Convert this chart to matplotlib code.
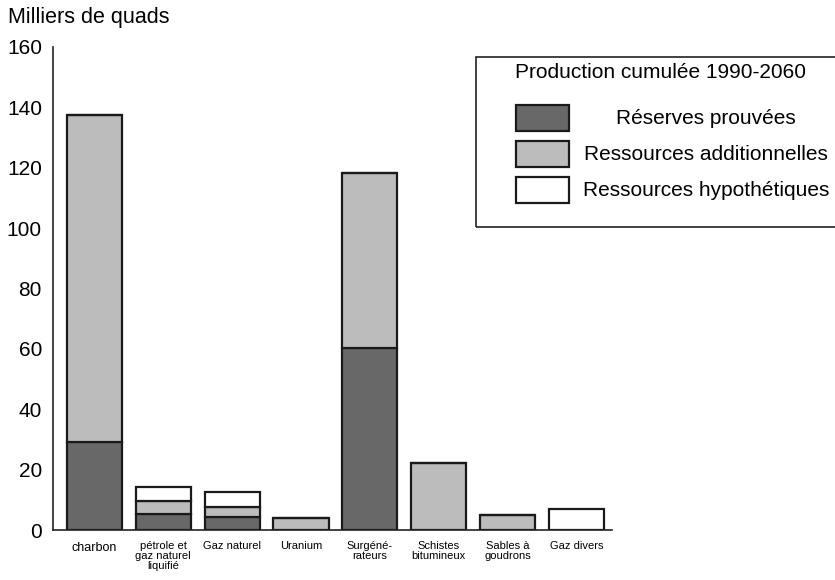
import matplotlib.pyplot as plt
from matplotlib.patches import Rectangle

plt.rcParams['font.family'] = ['Liberation Sans', 'DejaVu Sans']

categories = ['charbon', 'pétrole et\ngaz naturel\nliquifié', 'Gaz naturel', 'Uranium',
              'Surgéné-\nrateurs', 'Schistes\nbitumineux', 'Sables à\ngoudrons', 'Gaz divers']
reserves = [29, 5.3, 4.2, 0, 60.3, 0, 0, 0]
additionnelles = [108.4, 4.4, 3.4, 4.1, 57.9, 22.2, 5.0, 0]
hypothetiques = [0, 4.6, 5.0, 0, 0, 0, 0, 7.0]

dark = '#686868'
light = '#bcbcbc'
edge = '#1a1a1a'

fig = plt.figure(figsize=(8.35, 5.8), dpi=100)
ax = fig.add_axes([0.0635, 0.0862, 0.669, 0.8328])

x = list(range(len(categories)))
w = 0.8
bottom2 = [r for r in reserves]
bottom3 = [r + a for r, a in zip(reserves, additionnelles)]
ax.bar(x, reserves, w, color=dark, edgecolor=edge, linewidth=1.6)
ax.bar(x, additionnelles, w, bottom=bottom2, color=light, edgecolor=edge, linewidth=1.6)
ax.bar(x, hypothetiques, w, bottom=bottom3, color='white', edgecolor=edge, linewidth=1.6)

ax.set_xlim(-0.6, 7.51)
ax.set_ylim(0, 160)
ax.set_yticks(range(0, 161, 20))
ax.tick_params(axis='y', length=0, pad=8, labelsize=15)
ax.set_xticks([])
for s in ['top', 'right']:
    ax.spines[s].set_visible(False)
for s in ['left', 'bottom']:
    ax.spines[s].set_linewidth(1.2)
    ax.spines[s].set_color('#222222')

for i, lab in enumerate(categories):
    if i == 0:
        ax.text(i, -4, lab, ha='center', va='top', fontsize=9)
    else:
        ax.text(i, -3.8, lab, ha='center', va='top', fontsize=8, linespacing=1.0)

fig.text(8 / 835, 1 - 18 / 580, 'Milliers de quads', fontsize=15.5, ha='left', va='center')

# legende dessinée à la main
fig.patches.append(Rectangle((476 / 835, 1 - 227 / 580), 400 / 835, 170 / 580,
                             transform=fig.transFigure, fill=False, edgecolor='#222222', linewidth=1.2))
fig.text(515 / 835, 1 - 73 / 580, 'Production cumulée 1990-2060', fontsize=15, ha='left', va='center')
leg_colors = [dark, light, 'white']
leg_labels = ['Réserves prouvées', 'Ressources additionnelles', 'Ressources hypothétiques']
for k, (c, lab) in enumerate(zip(leg_colors, leg_labels)):
    yc = 118 + k * 36
    fig.patches.append(Rectangle((516 / 835, 1 - (yc + 13) / 580), 53 / 835, 26 / 580,
                                 transform=fig.transFigure, facecolor=c, edgecolor=edge, linewidth=1.6))
    fig.text(706 / 835, 1 - yc / 580, lab, fontsize=15, ha='center', va='center')

fig.savefig('out.png', dpi=100)
